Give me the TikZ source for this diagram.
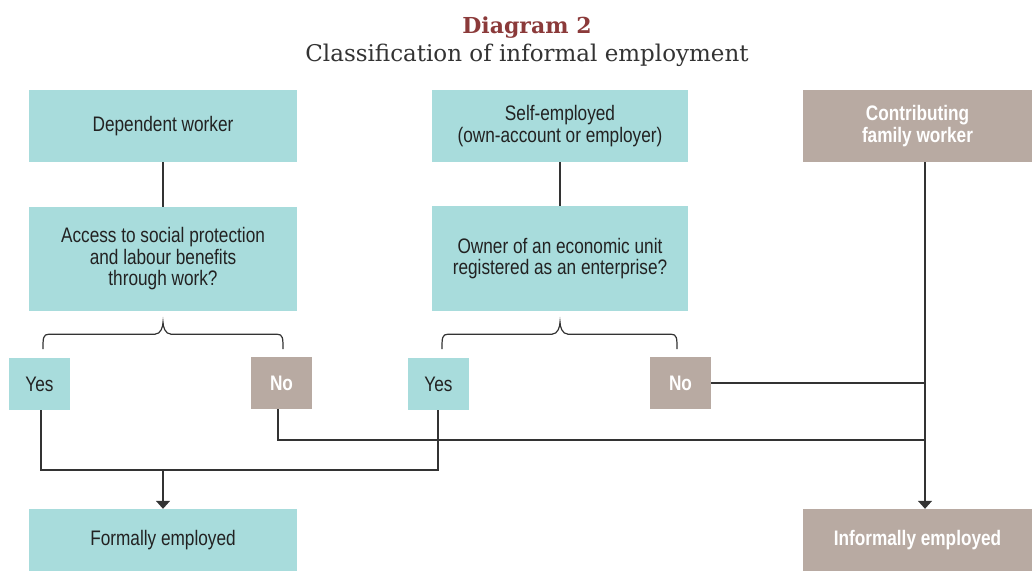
\documentclass[tikz,border=0pt]{standalone}
\usepackage{fontspec}
\setmainfont{Liberation Sans}
\newfontfamily\boxfont[FakeStretch=0.82]{Liberation Sans}
\newfontfamily\titlefont{DejaVu Serif}
\usetikzlibrary{arrows.meta}
\definecolor{tealbox}{HTML}{A8DCDC}
\definecolor{taupebox}{HTML}{B8AAA2}
\definecolor{titlered}{HTML}{8B3A3A}
\definecolor{linegrey}{HTML}{333333}
\definecolor{textdark}{HTML}{222222}
\tikzset{
  base/.style={inner sep=0pt, align=center, font=\boxfont\fontsize{21}{21.5}\selectfont},
  tealnode/.style={base, fill=tealbox, text=textdark},
  taupenode/.style={base, fill=taupebox, text=white, font=\boxfont\bfseries\fontsize{21}{22}\selectfont},
  conn/.style={draw=linegrey, line width=1.4pt},
  arrowconn/.style={conn, -{Triangle[width=14pt,length=8pt]}},
}
\begin{document}
\begin{tikzpicture}[x=1pt,y=-1pt]
\useasboundingbox (0,0) rectangle (1032,571);

% title
\node[anchor=base, font=\titlefont\bfseries\fontsize{22}{26}\selectfont, text=titlered] (title) at (527,33) {Diagram 2};
\node[anchor=base, font=\titlefont\fontsize{23}{28}\selectfont, text=linegrey] (subtitle) at (527,61) {Classification of informal employment};

% top row
\node[tealnode, minimum width=268pt, minimum height=72pt] (dep) at (163,126) {Dependent worker};
\node[tealnode, minimum width=256pt, minimum height=72pt] (self) at (560,126) {Self-employed\\(own-account or employer)};
\node[taupenode, minimum width=229pt, minimum height=72pt] (contrib) at (917.5,126) {Contributing\\family worker};

% questions
\node[tealnode, minimum width=268pt, minimum height=104pt] (access) at (163,259) {Access to social protection\\and labour benefits\\through work?};
\node[tealnode, minimum width=256pt, minimum height=105pt] (owner) at (560,258.5) {Owner of an economic unit\\registered as an enterprise?};

% answers
\node[tealnode, minimum width=61pt, minimum height=52pt] (yes1) at (39.5,384) {Yes};
\node[taupenode, minimum width=61pt, minimum height=52pt] (no1) at (281.5,383) {No};
\node[tealnode, minimum width=61pt, minimum height=52pt] (yes2) at (438.5,384) {Yes};
\node[taupenode, minimum width=61pt, minimum height=52pt] (no2) at (680.5,383) {No};

% outcomes
\node[tealnode, minimum width=268pt, minimum height=62pt] (formal) at (163,540) {Formally employed};
\node[taupenode, minimum width=229pt, minimum height=62pt] (informal) at (917.5,540) {Informally employed};

% helper points
\coordinate (trunktop) at ([xshift=7.5pt]contrib.south);
\coordinate (trunkbot) at ([xshift=7.5pt]informal.north);
\coordinate (yesjoin) at (163,470);

% top to question
\draw[conn] (dep.south) -- (access.north);
\draw[conn] (self.south) -- (owner.south |- owner.north);

% braces (yshift is in canvas units, so downward is negative)
\draw[conn, line width=1.2pt] ([xshift=-120pt,yshift=-38pt]access.south)
  .. controls +(0,-11) and +(-6,0) .. ++(6,-15) -- ++(106,0)
  .. controls +(6,0) and +(0,4) .. ++(8,-12)
  .. controls +(0,4) and +(-6,0) .. ++(8,12) -- ++(106,0)
  .. controls +(6,0) and +(0,-11) .. ++(6,15);
\draw[conn, line width=1.2pt] ([xshift=-118pt,yshift=-38pt]owner.south)
  .. controls +(0,-11) and +(-6,0) .. ++(6,-15) -- ++(104,0)
  .. controls +(6,0) and +(0,4) .. ++(8,-12)
  .. controls +(0,4) and +(-6,0) .. ++(8,12) -- ++(103,0)
  .. controls +(6,0) and +(0,-11) .. ++(6,15);

% yes branches to formal
\draw[conn] ([xshift=1.5pt]yes1.south) |- (yesjoin) -| ([xshift=-0.5pt]yes2.south);
\draw[arrowconn] (yesjoin) -- (formal.north);

% no branches to informal
\draw[conn] ([xshift=-3.5pt]no1.south) |- (trunkbot |- 0,440);
\draw[conn] (no2.east) -- (no2.east -| trunktop);
\draw[arrowconn] (trunktop) -- (trunkbot);
\end{tikzpicture}
\end{document}
